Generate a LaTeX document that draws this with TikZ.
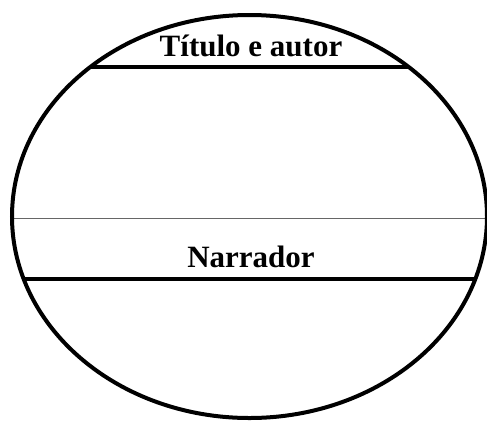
\documentclass[tikz,border=0pt]{standalone}
\usepackage{fontspec}
\setmainfont{Liberation Serif}
\begin{document}
\begin{tikzpicture}[x=1pt,y=-1pt,
  lbl/.style={font=\fontsize{31}{36}\selectfont\bfseries, inner sep=0pt, anchor=base},
  thick line/.style={line width=3.5pt},
  thin line/.style={line width=1pt, black!60}]
\useasboundingbox (0,0) rectangle (487,421);
\coordinate (c) at (249.5,216.5);
\begin{scope}
  \clip (c) ellipse [x radius=237.5, y radius=201.5];
  \coordinate (t1) at (0,67);  \coordinate (t2) at (487,67);
  \coordinate (m1) at (0,218); \coordinate (m2) at (487,218);
  \coordinate (n1) at (0,279); \coordinate (n2) at (487,279);
  \draw[thick line] (t1) -- (t2);
  \draw[thick line] (n1) -- (n2);
\end{scope}
\draw[thin line] (12,218) -- (m2);
\draw[line width=4pt] (c) ellipse [x radius=237.5, y radius=201.5];
\node[lbl] (title) at (251,56) {Título e autor};
\node[lbl] (narr) at (251,267) {Narrador};
\end{tikzpicture}
\end{document}
